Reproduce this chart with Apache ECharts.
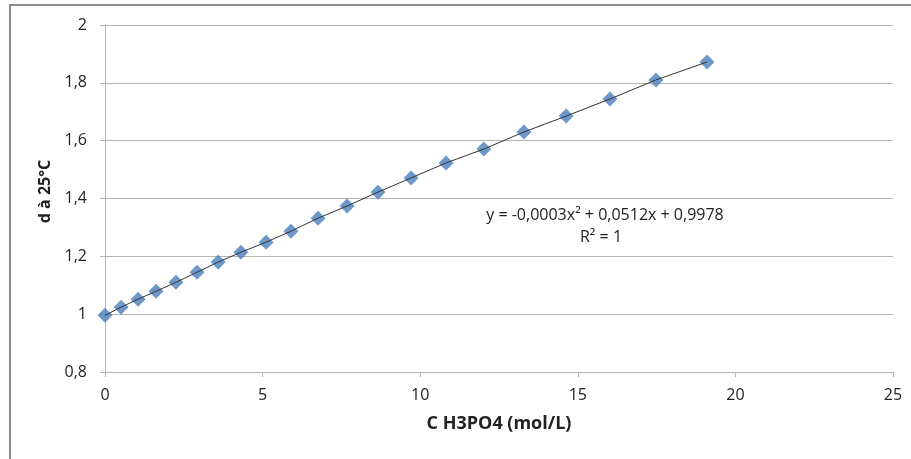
<!DOCTYPE html>
<html>
<head>
<meta charset="utf-8">
<script src="https://cdn.jsdelivr.net/npm/echarts@6/dist/echarts.min.js"></script>
<style>html,body{margin:0;padding:0;background:#fff}#c{width:911px;height:459px}</style>
</head>
<body>
<div id="c"></div>
<script>
var concentrations = [0, 0.51, 1.05, 1.62, 2.25, 2.92, 3.59, 4.31, 5.11, 5.90, 6.76, 7.68, 8.66, 9.71, 10.82, 12.02, 13.29, 14.63, 16.02, 17.48, 19.10];
var densities = [0.996, 1.024, 1.052, 1.079, 1.110, 1.145, 1.180, 1.214, 1.249, 1.287, 1.332, 1.374, 1.422, 1.471, 1.523, 1.571, 1.630, 1.685, 1.744, 1.810, 1.872];
var yTicks = ['0,8', '1', '1,2', '1,4', '1,6', '1,8', '2'];
var xTicks = ['0', '5', '10', '15', '20', '25'];
var equationText = 'y = -0,0003x² + 0,0512x + 0,9978';
var r2Text = 'R² = 1';

var pts = concentrations.map(function (x, i) { return [x, densities[i]]; });
var font = 'Open Sans';
var chart = echarts.init(document.getElementById('c'));
chart.setOption({
  animation: false,
  backgroundColor: '#fff',
  graphic: [
    { type: 'rect', shape: { x: 10, y: 5, width: 1000, height: 1000 }, style: { fill: 'none', stroke: '#8c8c8c', lineWidth: 2 }, z: 0 },
    { type: 'text', x: 605, y: 215, style: { text: equationText, font: '16px ' + font, fill: '#222', textAlign: 'center', textVerticalAlign: 'middle' }, z: 10 },
    { type: 'text', x: 601, y: 237, style: { text: r2Text, font: '16px ' + font, fill: '#222', textAlign: 'center', textVerticalAlign: 'middle' }, z: 10 }
  ],
  grid: { left: 105, right: 18, top: 25, bottom: 87, containLabel: false },
  xAxis: {
    type: 'value', min: 0, max: 25, interval: 5,
    name: 'C H3PO4 (mol/L)', nameLocation: 'middle', nameGap: 43,
    nameTextStyle: { fontFamily: font, fontWeight: 'bold', fontSize: 18, color: '#222' },
    axisLine: { show: true, lineStyle: { color: '#b5b5b5', width: 1 } },
    axisTick: { show: true, inside: false, length: 5, lineStyle: { color: '#b5b5b5' } },
    axisLabel: { fontFamily: font, fontSize: 16, color: '#222', margin: 15, formatter: function (v) { return xTicks[Math.round(v / 5)]; } },
    splitLine: { show: false }
  },
  yAxis: {
    type: 'value', min: 0.8, max: 2, interval: 0.2,
    name: 'd à 25°C', nameLocation: 'middle', nameGap: 47, nameRotate: 90,
    nameTextStyle: { fontFamily: font, fontWeight: 'bold', fontSize: 16, color: '#222', padding: [0, 0, 0, 14] },
    axisLine: { show: true, lineStyle: { color: '#b5b5b5', width: 1 } },
    axisTick: { show: true, inside: false, length: 5, lineStyle: { color: '#b5b5b5' } },
    axisLabel: { fontFamily: font, fontSize: 16, color: '#222', margin: 18, formatter: function (v) { return yTicks[Math.round((v - 0.8) / 0.2)]; } },
    splitLine: { show: true, lineStyle: { color: '#b5b5b5', width: 1 } }
  },
  series: [
    {
      type: 'line', data: pts, symbol: 'none', smooth: false,
      lineStyle: { color: '#333', width: 1 }, z: 3
    },
    {
      type: 'scatter', data: pts, symbol: 'diamond', symbolSize: 15,
      itemStyle: { color: '#4a7ebb' }, z: 2
    }
  ]
});
</script>
</body>
</html>
